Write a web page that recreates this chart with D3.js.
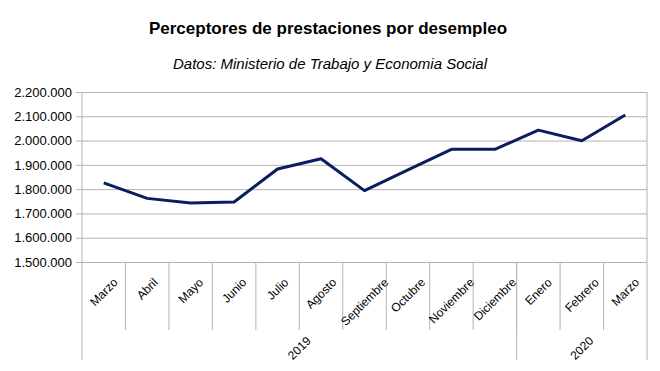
<!DOCTYPE html>
<html><head><meta charset="utf-8">
<script src="https://cdn.jsdelivr.net/npm/d3@7"></script>
<style>body{margin:0;background:#fff}svg{display:block}text{font-family:"Liberation Sans",Arial,sans-serif}</style>
</head><body>
<script>
const months = ["Marzo","Abril","Mayo","Junio","Julio","Agosto","Septiembre","Octubre","Noviembre","Diciembre","Enero","Febrero","Marzo"];
const values = [1826000,1762000,1743000,1747000,1883000,1925000,1794000,1879000,1964000,1964000,2043000,1999000,2105000];
const yearLabels = ["2019","2020"];
const yearSpans = [10,3];
const yTicks = [1500000,1600000,1700000,1800000,1900000,2000000,2100000,2200000];
const title = "Perceptores de prestaciones por desempleo";
const subtitle = "Datos: Ministerio de Trabajo y Economia Social";

const W=660,H=371;
const svg=d3.select("body").append("svg").attr("width",W).attr("height",H);
const L=82,R=647,T=92,B=262;
const x=d3.scaleBand().domain(d3.range(months.length)).range([L,R]);
const y=d3.scaleLinear().domain([1500000,2200000]).range([B,T]);
const loc=d3.formatLocale({decimal:",",thousands:".",grouping:[3],currency:["",""]});
const fmt=loc.format(",.0f");
const grid="#b3b3b3";

svg.append("text").attr("x",328).attr("y",34).attr("text-anchor","middle")
  .attr("font-size",17).attr("font-weight","bold").text(title);
svg.append("text").attr("x",330).attr("y",69).attr("text-anchor","middle")
  .attr("font-size",15).attr("font-style","italic").text(subtitle);

// y axis with gridlines
const ya=svg.append("g").attr("transform",`translate(${L},0)`)
  .call(d3.axisLeft(y).tickValues(yTicks).tickFormat(fmt).tickSize(6).tickPadding(4));
ya.select(".domain").remove();
ya.selectAll(".tick line").attr("stroke",grid).attr("x2",R-L);
ya.selectAll(".tick line").attr("x1",-6);
ya.selectAll(".tick text").attr("font-size",13).attr("fill","#000").attr("font-family",'"Liberation Sans",Arial,sans-serif');

// frame lines
svg.append("line").attr("x1",L).attr("x2",L).attr("y1",T).attr("y2",360).attr("stroke",grid);
svg.append("line").attr("x1",R).attr("x2",R).attr("y1",T).attr("y2",360).attr("stroke",grid);

// month separators
d3.range(1,months.length).forEach(i=>{
  svg.append("line").attr("x1",x(i)).attr("x2",x(i)).attr("y1",B).attr("y2",330).attr("stroke",grid);
});
// year separators
let acc=0;
const yearStarts=[];
yearSpans.forEach(s=>{yearStarts.push(acc);acc+=s;});
yearStarts.forEach((s,i)=>{
  if(s>0) svg.append("line").attr("x1",x(s)).attr("x2",x(s)).attr("y1",B).attr("y2",360).attr("stroke",grid);
});

// month labels
months.forEach((m,i)=>{
  const cx=x(i)+x.bandwidth()/2;
  const t=svg.append("text").attr("font-size",12).attr("text-anchor","middle").attr("dy","0.35em").text(m);
  const w=t.node().getComputedTextLength();
  const cy=277+(w+9)/(2*Math.SQRT2);
  t.attr("x",cx).attr("y",cy).attr("transform",`rotate(-45,${cx},${cy})`);
});
// year labels
yearLabels.forEach((yl,i)=>{
  const s=yearStarts[i],e=s+yearSpans[i];
  const cx=(x(s)+(e<months.length?x(e):R))/2;
  const cy=348;
  svg.append("text").attr("font-size",12).attr("text-anchor","middle").attr("dy","0.35em")
    .attr("x",cx).attr("y",cy).attr("transform",`rotate(-45,${cx},${cy})`).text(yl);
});

// line
const line=d3.line().x((d,i)=>x(i)+x.bandwidth()/2).y(d=>y(d));
svg.append("path").datum(values).attr("d",line).attr("fill","none")
  .attr("stroke","#0a1d5e").attr("stroke-width",3).attr("stroke-linejoin","round");
</script>
</body></html>
